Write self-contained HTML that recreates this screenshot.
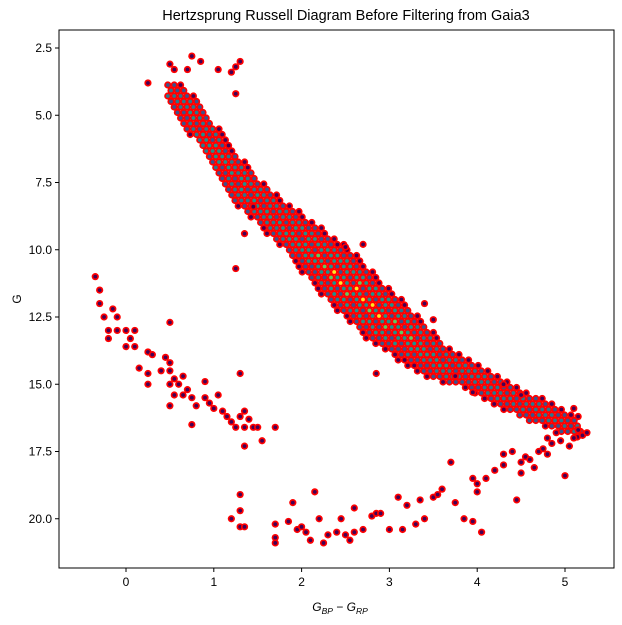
<!DOCTYPE html>
<html><head><meta charset="utf-8"><style>
body{margin:0;background:#fff;}
svg{display:block;font-family:"Liberation Sans","DejaVu Sans",sans-serif;}
</style></head><body>
<svg id="chart" width="622" height="625" viewBox="0 0 622 625">
<rect width="622" height="625" fill="#fff"/>
<text x="346" y="20" text-anchor="middle" font-size="14.5" fill="#000">Hertzsprung Russell Diagram Before Filtering from Gaia3</text>
<g id="cells"></g>
<rect x="59" y="30" width="555" height="538" fill="none" stroke="#000" stroke-width="1"/>
<g id="xaxis"></g>
<g id="yaxis"></g>
<text x="340" y="611" text-anchor="middle" font-size="12" font-style="italic">G<tspan font-size="8.5" dy="3">BP</tspan><tspan dy="-3"> − G</tspan><tspan font-size="8.5" dy="3">RP</tspan></text>
<text x="21" y="299" text-anchor="middle" font-size="12" transform="rotate(-90 21 299)">G</text>
</svg>
<script>
const xTicks=[0,1,2,3,4,5];
const yTicks=[2.5,5.0,7.5,10.0,12.5,15.0,17.5,20.0];
const yTickLabels=["2.5","5.0","7.5","10.0","12.5","15.0","17.5","20.0"];
// main sequence band: colour, upper (bright) G edge, lower G edge, density level
const msX=[0.45,0.6,0.8,1.0,1.2,1.4,1.6,1.8,2.0,2.2,2.4,2.6,2.8,3.0,3.2,3.4,3.6,3.8,4.0,4.2,4.4,4.6,4.8,5.0,5.2];
const msTop=[3.6,3.8,4.3,5.2,6.2,6.9,7.6,8.2,8.6,9.1,9.6,10.1,10.8,11.4,12.0,12.7,13.4,13.9,14.2,14.6,15.0,15.3,15.6,16.0,16.4];
const msBot=[4.5,5.3,6.0,7.2,8.2,8.8,9.4,10.0,10.8,11.6,12.3,12.9,13.5,13.9,14.3,14.7,15.0,15.1,15.4,15.8,16.1,16.5,16.6,16.9,17.0];
const msDens=[1,1,2,2,2,2,2,2,3,3,4,4,4,4,3,2,2,1,1,1,1,1,1,1,1];
// isolated sparse cells
const ptX=[0.25,0.5,0.55,0.7,0.75,0.85,1.05,1.2,1.25,1.3,1.25,1.25,0.5,1.3,
-0.35,-0.3,-0.3,-0.25,-0.15,-0.1,-0.2,-0.1,0,0.05,-0.2,0,0.1,0.1,0.15,0.25,0.3,0.25,0.25,0.45,0.5,0.5,0.4,0.55,0.6,0.65,0.7,0.5,0.55,0.65,0.75,0.8,0.75,0.9,0.9,0.95,1.0,1.05,1.1,1.15,1.2,1.25,1.3,1.35,1.4,1.45,1.35,1.5,1.55,1.7,1.35,0.5,
1.3,1.3,1.2,1.3,1.35,1.7,1.7,1.7,1.85,1.9,1.95,2.05,2.0,2.1,2.2,2.25,2.15,2.3,2.4,2.45,2.5,2.55,2.6,2.6,2.7,2.8,2.85,2.9,3.0,3.1,3.15,3.2,3.3,3.35,3.4,3.5,3.55,3.6,3.7,3.75,3.85,3.95,4.05,4.0,3.95,4.0,4.1,4.2,4.3,4.45,4.5,4.5,4.55,4.6,4.65,4.7,4.75,4.8,4.85,4.9,5.0,4.95,5.05,5.1,5.15,5.2,5.25,5.15,5.1,4.8,4.4,4.3,
1.35,1.45,2.85,3.75,3.95,4.3,4.5,3.4,3.5,2.7,2.5];
const ptG=[3.8,3.1,3.3,3.3,2.8,3.0,3.3,3.4,3.2,3.0,4.2,10.7,12.7,14.6,
11.0,11.5,12.0,12.5,12.2,12.5,13.0,13.0,13.0,13.3,13.3,13.6,13.6,13.0,14.4,13.8,13.9,14.6,15.0,14.0,14.2,14.5,14.5,14.8,15.0,14.7,15.2,15.0,15.4,15.4,15.5,15.8,16.5,15.5,14.9,15.7,15.9,15.4,16.0,16.2,16.4,16.6,16.2,16.0,16.3,16.6,16.6,16.6,17.1,16.6,17.3,15.8,
19.1,19.7,20.0,20.3,20.3,20.2,20.7,20.9,20.1,19.4,20.4,20.5,20.3,20.8,20.0,20.9,19.0,20.6,20.5,20.0,20.6,20.8,19.6,20.5,20.4,19.9,19.8,19.8,20.4,19.2,20.4,19.5,20.2,19.3,20.0,19.2,19.1,18.9,17.9,19.4,20.0,20.1,20.5,19.0,18.5,18.7,18.5,18.2,18.0,19.3,18.3,17.9,17.7,17.8,18.1,17.5,17.4,17.0,17.2,16.8,18.4,17.1,17.3,17.0,16.7,16.9,16.8,16.2,15.9,17.6,17.5,17.6,
9.4,8.4,14.6,14.7,15.3,15.0,15.4,12.0,12.6,9.8,9.9];
const colors=["#440154","#3b528b","#2a788e","#21918c","#5ec962","#fde725"];
const X=v=>126+v*87.8, Y=g=>48+(g-2.5)*26.9;
const NS="http://www.w3.org/2000/svg";
const cells=document.getElementById('cells');
function cell(px,py,c){
  const o=document.createElementNS(NS,'circle');
  o.setAttribute('cx',px);o.setAttribute('cy',py);o.setAttribute('r',3.6);o.setAttribute('fill','#f00');
  
  
  cells.appendChild(o);
  const i=document.createElementNS(NS,'circle');
  i.setAttribute('cx',px);i.setAttribute('cy',py);i.setAttribute('r',1.9);i.setAttribute('fill',c);
  
  
  cells.appendChild(i);
}
function interp(arr,x){
  for(let k=0;k<msX.length-1;k++){if(x>=msX[k]&&x<=msX[k+1]){const t=(x-msX[k])/(msX[k+1]-msX[k]);return arr[k]+t*(arr[k+1]-arr[k]);}}
  return null;
}
const dx=6.4, dy=5.5;
for(let r=0;r*dy<540;r++){
  const py=30+r*dy;
  for(let c=0;c*dx<560;c++){
    const px=59+c*dx+(r%2?dx/2:0);
    const xv=(px-126)/87.8, gv=(py-48)/26.9+2.5;
    const t=interp(msTop,xv), b=interp(msBot,xv), d=interp(msDens,xv);
    if(t===null)continue;
    if(gv>=t&&gv<=b){
      const f=(gv-t)/(b-t), cen=1-Math.abs(f-0.5)*2;
      let lv=0;
      if(cen>0.15)lv=1;
      if(cen>0.35)lv=Math.min(5,Math.round(d*cen)+1);
      if(lv>3&&((r+c)%3))lv=3;
      if(lv>=2&&((r*7+c)%4===0))lv=1;
      cell(px,py,colors[lv]);
    }
  }
}
for(let k=0;k<ptX.length;k++)cell(X(ptX[k]),Y(ptG[k]),colors[0]);
const xa=document.getElementById('xaxis');
xTicks.forEach(v=>{
  const l=document.createElementNS(NS,'line');
  l.setAttribute('x1',X(v));l.setAttribute('x2',X(v));l.setAttribute('y1',568);l.setAttribute('y2',572);l.setAttribute('stroke','#000');
  
  
  xa.appendChild(l);
  const t=document.createElementNS(NS,'text');
  t.setAttribute('x',X(v));t.setAttribute('y',586);t.setAttribute('text-anchor','middle');t.setAttribute('font-size','12');t.textContent=v;
  
  
  xa.appendChild(t);
});
const ya=document.getElementById('yaxis');
yTicks.forEach((v,i)=>{
  const l=document.createElementNS(NS,'line');
  l.setAttribute('x1',55);l.setAttribute('x2',59);l.setAttribute('y1',Y(v));l.setAttribute('y2',Y(v));l.setAttribute('stroke','#000');
  
  
  ya.appendChild(l);
  const t=document.createElementNS(NS,'text');
  t.setAttribute('x',52);t.setAttribute('y',Y(v)+4);t.setAttribute('text-anchor','end');t.setAttribute('font-size','12');t.textContent=yTickLabels[i];
  
  
  ya.appendChild(t);
});
</script>
</body></html>
